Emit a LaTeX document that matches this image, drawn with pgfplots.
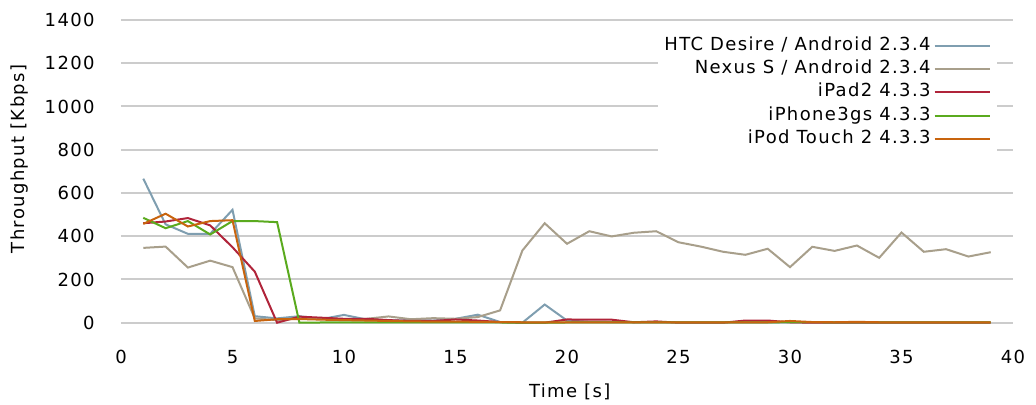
\documentclass[border=0pt]{standalone}
\usepackage{fontspec}
\setmainfont{DejaVu Sans}[LetterSpace=7.5]
\usepackage{pgfplots}
\pgfplotsset{compat=1.18}
\definecolor{chtc}{RGB}{127,158,176}
\definecolor{cnexus}{RGB}{168,159,139}
\definecolor{cipad}{RGB}{176,36,58}
\definecolor{ciphone}{RGB}{90,170,30}
\definecolor{cipod}{RGB}{200,100,14}
\definecolor{cgrid}{RGB}{204,204,204}
\newcommand{\cf}{\fontsize{9pt}{10.8pt}\selectfont}
\begin{document}
\begin{tikzpicture}
\useasboundingbox (-60.5pt,-41.15pt) rectangle (457.5pt,161.35pt);
\begin{axis}[
  scale only axis,
  width=446pt, height=151.35pt,
  xmin=0, xmax=40, ymin=0, ymax=1400,
  xtick={0,5,...,40}, ytick={0,200,...,1400},
  axis line style={draw=none},
  tick style={draw=none},
  ymajorgrids,
  major grid style={cgrid, line width=1pt},
  clip=false,
  /pgf/number format/assume math mode=true,
  /pgf/number format/1000 sep={},
  tick label style={font=\cf},
  xticklabel style={inner sep=0pt, anchor=center, yshift=-17.2pt},
  yticklabel style={inner sep=0pt, anchor=east, xshift=-13pt},
  xlabel={Time [s]},
  ylabel={Throughput [Kbps]},
  label style={font=\cf},
  xlabel style={at={(axis description cs:0.503,-0.228)}, anchor=center, inner sep=0pt},
  ylabel style={at={(axis description cs:-0.1138,0.541)}, anchor=center, inner sep=0pt},
  legend cell align=right,
  legend plot pos=right,
  legend image code/.code={\draw[#1, line width=1pt] (0pt,0pt) -- (27.5pt,0pt);},
  legend style={font=\cf, draw=none, fill=white, inner sep=3pt,
    at={(axis description cs:0.982,0.965)}, anchor=north east,
    row sep=3.1pt, column sep=1.5pt,
    nodes={inner sep=0pt, text height=6.6pt, text depth=2pt}},
  every axis plot/.append style={line width=1pt},
]
\addplot[chtc] coordinates {
(1,666)(2,455)(3,411)(4,411)(5,522)(6,30)(7,20)(8,30)(9,17)(10,36)(11,15)(12,10)(13,12)(14,10)(15,18)(16,37)(17,3)(18,0)(19,84)(20,10)(21,4)(22,3)(23,2)(24,2)(25,1)(26,1)(27,1)(28,1)(29,1)(30,1)(31,1)(32,1)(33,1)(34,1)(35,1)(36,1)(37,1)(38,1)(39,1)};
\addlegendentry{HTC Desire / Android 2.3.4}
\addplot[cnexus] coordinates {
(1,346)(2,352)(3,255)(4,287)(5,257)(6,20)(7,12)(8,20)(9,22)(10,15)(11,18)(12,29)(13,16)(14,21)(15,18)(16,26)(17,57)(18,334)(19,460)(20,365)(21,423)(22,399)(23,416)(24,423)(25,372)(26,352)(27,328)(28,314)(29,342)(30,257)(31,351)(32,332)(33,357)(34,300)(35,417)(36,328)(37,340)(38,306)(39,326)};
\addlegendentry{Nexus S / Android 2.3.4}
\addplot[cipad] coordinates {
(1,460)(2,468)(3,484)(4,450)(5,349)(6,236)(7,0)(8,28)(9,23)(10,18)(11,18)(12,12)(13,8)(14,8)(15,15)(16,10)(17,3)(18,0)(19,0)(20,15)(21,14)(22,14)(23,2)(24,6)(25,0)(26,0)(27,0)(28,10)(29,10)(30,2)(31,0)(32,0)(33,0)(34,0)(35,0)(36,0)(37,0)(38,0)(39,0)};
\addlegendentry{iPad2 4.3.3\ }
\addplot[ciphone] coordinates {
(1,485)(2,437)(3,470)(4,408)(5,470)(6,470)(7,465)(8,0)(9,1)(10,2)(11,2)(12,1)(13,1)(14,1)(15,1)(16,1)(17,1)(18,0)(19,0)(20,1)(21,1)(22,1)(23,1)(24,1)(25,1)(26,1)(27,1)(28,1)(29,1)(30,3)(31,3)(32,1)(33,1)(34,1)(35,1)(36,1)(37,1)(38,1)(39,1)};
\addlegendentry{iPhone3gs 4.3.3}
\addplot[cipod] coordinates {
(1,457)(2,504)(3,445)(4,470)(5,474)(6,8)(7,16)(8,17)(9,14)(10,12)(11,10)(12,8)(13,6)(14,5)(15,5)(16,4)(17,3)(18,2)(19,2)(20,2)(21,2)(22,2)(23,2)(24,2)(25,2)(26,2)(27,2)(28,2)(29,2)(30,8)(31,3)(32,2)(33,4)(34,2)(35,2)(36,2)(37,2)(38,2)(39,2)};
\addlegendentry{iPod Touch 2 4.3.3}
\end{axis}
\end{tikzpicture}
\end{document}
